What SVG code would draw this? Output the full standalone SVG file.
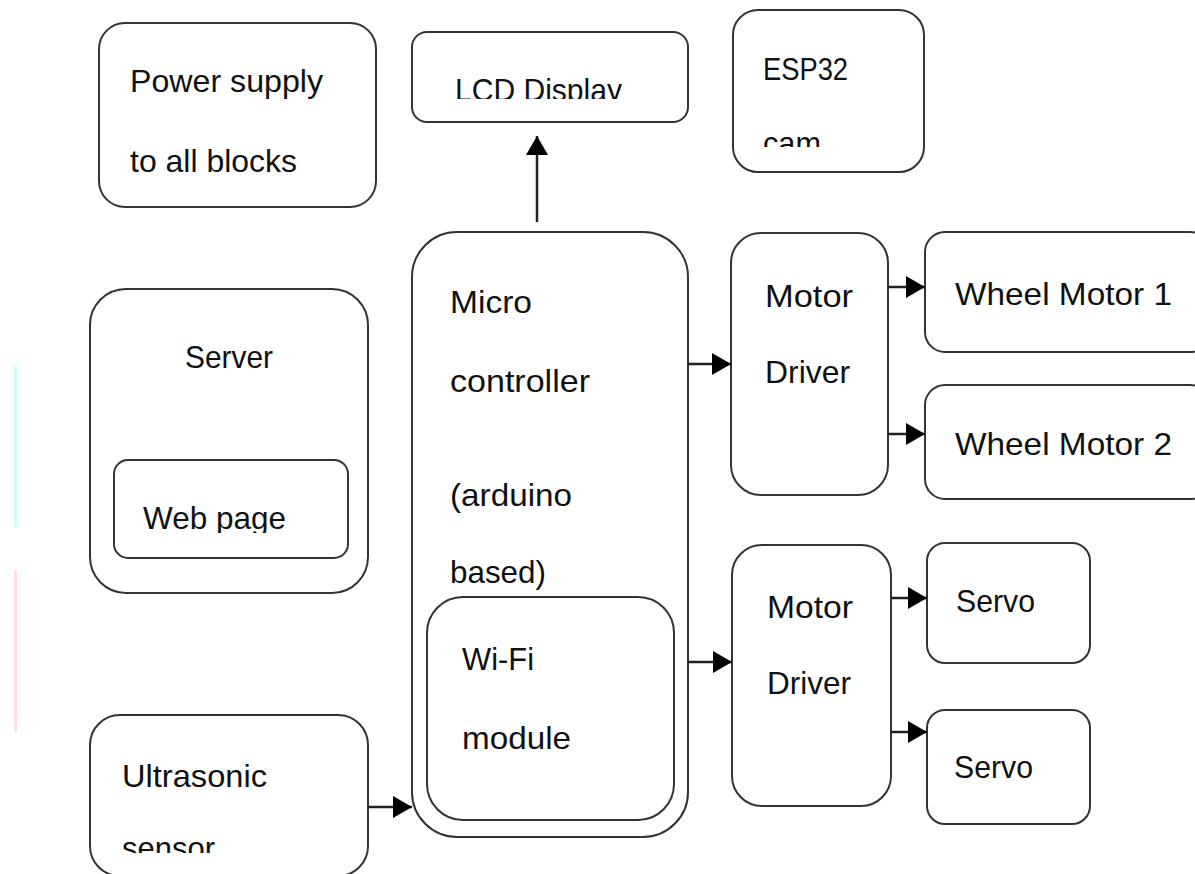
<svg xmlns="http://www.w3.org/2000/svg" width="1195" height="874" viewBox="0 0 1195 874">
<style>
.box{fill:#fff;stroke:#333;stroke-width:2}
.t{font-family:"Liberation Sans",Arial,sans-serif;font-size:32px;fill:#111}
.c{stroke:#222;stroke-width:2.5;fill:none}
</style>
<defs>
<marker id="ah" markerUnits="userSpaceOnUse" markerWidth="20" markerHeight="22" refX="19" refY="11" orient="auto">
<path d="M0,0 L19,11 L0,22 Z" fill="#000"/>
</marker>
<clipPath id="clipLcd"><rect x="400" y="20" width="300" height="79"/></clipPath>
<clipPath id="clipCam"><rect x="740" y="100" width="180" height="47"/></clipPath>
<clipPath id="clipSensor"><rect x="95" y="800" width="260" height="53"/></clipPath>
<clipPath id="clipWeb"><rect x="115" y="470" width="230" height="63"/></clipPath>
</defs>
<rect width="1195" height="874" fill="#fff"/>
<rect x="14" y="366" width="3" height="161" fill="#ccffff"/>
<rect x="14" y="570" width="3" height="162" fill="#ffe0e0"/>

<g id="power">
<rect class="box" x="99" y="23" width="277" height="184" rx="26"/>
<text class="t" x="130" y="92" textLength="193" lengthAdjust="spacingAndGlyphs">Power supply</text>
<text class="t" x="130" y="172" textLength="167" lengthAdjust="spacingAndGlyphs">to all blocks</text>
</g>
<g id="lcd">
<rect class="box" x="412" y="32" width="276" height="90" rx="15"/>
<text class="t" x="455" y="101" textLength="167" lengthAdjust="spacingAndGlyphs" clip-path="url(#clipLcd)">LCD Display</text>
</g>
<g id="esp32">
<rect class="box" x="733" y="10" width="191" height="162" rx="25"/>
<text class="t" x="763" y="80" textLength="85" lengthAdjust="spacingAndGlyphs">ESP32</text>
<text class="t" x="763" y="154" textLength="58" lengthAdjust="spacingAndGlyphs" clip-path="url(#clipCam)">cam</text>
</g>
<g id="server">
<rect class="box" x="90" y="289" width="278" height="304" rx="36"/>
<text class="t" x="185" y="368" textLength="88" lengthAdjust="spacingAndGlyphs">Server</text>
</g>
<g id="webpage">
<rect class="box" x="114" y="460" width="234" height="98" rx="14"/>
<text class="t" x="143" y="529" textLength="143" lengthAdjust="spacingAndGlyphs" clip-path="url(#clipWeb)">Web page</text>
</g>
<g id="microcontroller">
<rect class="box" x="412" y="232" width="276" height="605" rx="45"/>
<text class="t" x="450" y="313" textLength="82" lengthAdjust="spacingAndGlyphs">Micro</text>
<text class="t" x="450" y="392" textLength="140" lengthAdjust="spacingAndGlyphs">controller</text>
<text class="t" x="450" y="506" textLength="122" lengthAdjust="spacingAndGlyphs">(arduino</text>
<text class="t" x="450" y="583" textLength="96" lengthAdjust="spacingAndGlyphs">based)</text>
</g>
<g id="wifi">
<rect class="box" x="427" y="597" width="247" height="223" rx="36"/>
<text class="t" x="462" y="670" textLength="72" lengthAdjust="spacingAndGlyphs">Wi-Fi</text>
<text class="t" x="462" y="749" textLength="109" lengthAdjust="spacingAndGlyphs">module</text>
</g>
<g id="motordriver1">
<rect class="box" x="731" y="233" width="157" height="262" rx="30"/>
<text class="t" x="765" y="307" textLength="88" lengthAdjust="spacingAndGlyphs">Motor</text>
<text class="t" x="765" y="383" textLength="85" lengthAdjust="spacingAndGlyphs">Driver</text>
</g>
<g id="wheelmotor1">
<rect class="box" x="925" y="232" width="285" height="120" rx="20"/>
<text class="t" x="955" y="305" textLength="217" lengthAdjust="spacingAndGlyphs">Wheel Motor 1</text>
</g>
<g id="wheelmotor2">
<rect class="box" x="925" y="385" width="285" height="114" rx="20"/>
<text class="t" x="955" y="455" textLength="217" lengthAdjust="spacingAndGlyphs">Wheel Motor 2</text>
</g>
<g id="motordriver2">
<rect class="box" x="732" y="545" width="159" height="261" rx="30"/>
<text class="t" x="767" y="618" textLength="86" lengthAdjust="spacingAndGlyphs">Motor</text>
<text class="t" x="767" y="694" textLength="84" lengthAdjust="spacingAndGlyphs">Driver</text>
</g>
<g id="servo1">
<rect class="box" x="927" y="543" width="163" height="120" rx="18"/>
<text class="t" x="956" y="612" textLength="79" lengthAdjust="spacingAndGlyphs">Servo</text>
</g>
<g id="servo2">
<rect class="box" x="927" y="710" width="163" height="114" rx="18"/>
<text class="t" x="954" y="778" textLength="79" lengthAdjust="spacingAndGlyphs">Servo</text>
</g>
<g id="ultrasonic">
<rect class="box" x="90" y="715" width="278" height="161" rx="30"/>
<text class="t" x="122" y="787" textLength="145" lengthAdjust="spacingAndGlyphs">Ultrasonic</text>
<text class="t" x="122" y="859" textLength="93" lengthAdjust="spacingAndGlyphs" clip-path="url(#clipSensor)">sensor</text>
</g>

<g id="connectors">
<line class="c" x1="537" y1="222" x2="537" y2="136" marker-end="url(#ah)"/>
<line class="c" x1="688" y1="364" x2="731" y2="364" marker-end="url(#ah)"/>
<line class="c" x1="688" y1="662" x2="732" y2="662" marker-end="url(#ah)"/>
<line class="c" x1="888" y1="287" x2="925" y2="287" marker-end="url(#ah)"/>
<line class="c" x1="888" y1="434" x2="925" y2="434" marker-end="url(#ah)"/>
<line class="c" x1="891" y1="598" x2="927" y2="598" marker-end="url(#ah)"/>
<line class="c" x1="891" y1="732" x2="927" y2="732" marker-end="url(#ah)"/>
<line class="c" x1="368" y1="807" x2="412" y2="807" marker-end="url(#ah)"/>
</g>
</svg>
